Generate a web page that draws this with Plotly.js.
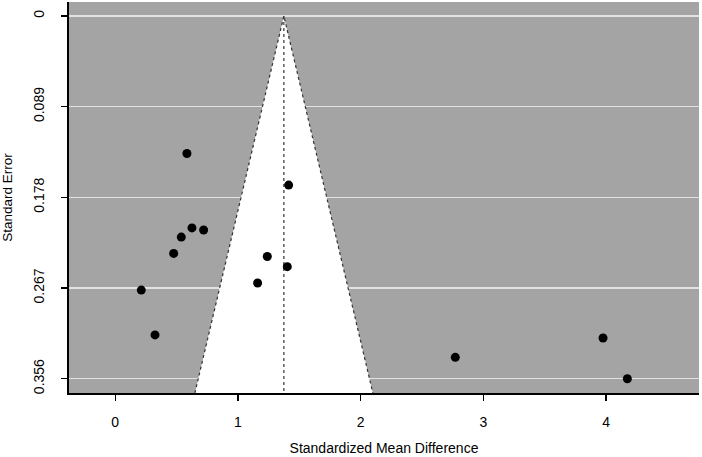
<!DOCTYPE html>
<html><head><meta charset="utf-8">
<script src="https://cdn.plot.ly/plotly-3.0.1.min.js"></script>
<style>html,body{margin:0;padding:0;background:#fff}</style>
</head><body><div id="chart" style="width:702px;height:457px"></div>
<script>
// Study effect sizes (standardized mean difference) and standard errors
const smd = [0.584, 0.625, 0.720, 0.538, 0.476, 0.212, 0.324, 1.413, 1.239, 1.402, 1.160, 2.771, 3.975, 4.173];
const se  = [0.135, 0.208, 0.210, 0.217, 0.233, 0.269, 0.313, 0.166, 0.236, 0.246, 0.262, 0.335, 0.316, 0.356];
const pooled = 1.374;
const seTicks = [0, 0.089, 0.178, 0.267, 0.356];
const xTicks = [0, 1, 2, 3, 4];
const seBottom = 0.370;
const z = 1.96;

const funnelFill = {
  x: [pooled - z*seBottom, pooled, pooled + z*seBottom],
  y: [seBottom, 0, seBottom],
  mode: 'lines', fill: 'toself', fillcolor: '#ffffff',
  line: {width: 0}, hoverinfo: 'skip'
};
const funnelEdge = {
  x: [pooled - z*seBottom, pooled, pooled + z*seBottom],
  y: [seBottom, 0, seBottom],
  mode: 'lines', line: {color: '#333', width: 1.2, dash: 'dot'}, hoverinfo: 'skip'
};
const center = {
  x: [pooled, pooled], y: [0, seBottom], mode: 'lines',
  line: {color: '#333', width: 1.2, dash: 'dot'}, hoverinfo: 'skip'
};
const pts = {
  x: smd, y: se, mode: 'markers',
  marker: {color: '#000', size: 9}
};
const font = {family: 'Liberation Sans, Arial, sans-serif', size: 14, color: '#000'};
Plotly.newPlot('chart', [funnelFill, funnelEdge, center, pts], {
  width: 702, height: 457,
  margin: {l: 69, r: 3, t: 2, b: 64},
  paper_bgcolor: '#fff', plot_bgcolor: '#a4a4a4',
  showlegend: false, font: font,
  xaxis: {range: [-0.377, 4.757], tickvals: xTicks, ticktext: xTicks.map(String),
    showgrid: false, zeroline: false, showline: true, linecolor: '#000', linewidth: 2,
    ticks: 'outside', ticklen: 6, tickcolor: '#000', tickwidth: 1.5,
    ticklabelstandoff: 9, tickfont: font,
    title: {text: 'Standardized Mean Difference', font: font, standoff: 14}},
  yaxis: {range: [0.370, -0.0137], tickvals: seTicks, ticktext: seTicks.map(String),
    showgrid: true, gridcolor: '#e2e2e2', gridwidth: 1.5, zeroline: false,
    showline: true, linecolor: '#000', linewidth: 2,
    ticks: 'outside', ticklen: 6, tickcolor: '#000', tickwidth: 1.5, tickangle: -90,
    ticklabelstandoff: 11, tickfont: font,
    title: {text: 'Standard Error', font: {family: font.family, size: 13.5, color: '#000'}, standoff: 16}}
}, {displayModeBar: false, staticPlot: true});
</script></body></html>
